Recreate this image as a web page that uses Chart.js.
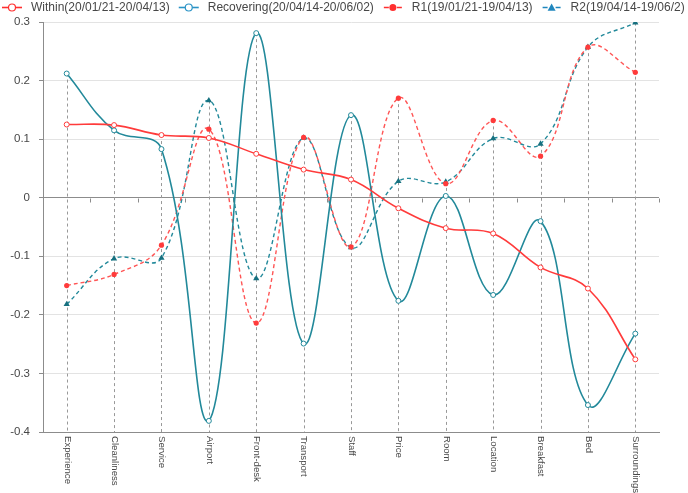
<!DOCTYPE html>
<html><head><meta charset="utf-8">
<script src="https://cdn.jsdelivr.net/npm/chart.js@4.4.1/dist/chart.umd.min.js"></script>
<style>html,body{margin:0;padding:0;background:#fff}#wrap{width:688px;height:493px;position:relative}</style>
</head><body><div id="wrap"><canvas id="c"></canvas></div>
<script>
const categories = ['Experience','Cleanliness','Service','Airport','Front-desk','Transport','Staff','Price','Room','Location','Breakfast','Bed','Surroundings'];
const within     = [0.125, 0.124, 0.107, 0.102, 0.075, 0.048, 0.031, -0.018, -0.052, -0.061, -0.119, -0.155, -0.276];
const recovering = [0.212, 0.115, 0.083, -0.381, 0.281, -0.249, 0.141, -0.176, 0.003, -0.166, -0.040, -0.354, -0.232];
const r1         = [-0.150, -0.131, -0.081, 0.117, -0.214, 0.103, -0.084, 0.170, 0.024, 0.132, 0.071, 0.257, 0.214];
const r2         = [-0.182, -0.104, -0.103, 0.166, -0.138, 0.102, -0.085, 0.028, 0.027, 0.101, 0.092, 0.257, 0.299];
const seriesNames = ['Within(20/01/21-20/04/13)','Recovering(20/04/14-20/06/02)','R1(19/01/21-19/04/13)','R2(19/04/14-19/06/2)'];
const yTickValues = [-0.4,-0.3,-0.2,-0.1,0,0.1,0.2,0.3];
const yTickLabels = ['-0.4','-0.3','-0.2','-0.1','0','0.1','0.2','0.3'];

const RED = '#FF3B3B', RED_L = '#FF5555', TEAL = '#22899A', TEAL_D = '#16707F';
const LEG_COLORS = ['#FF2F2F', '#2A93C6', '#FF2F2F', '#2087BE'];
const FONT = '"Liberation Sans", Arial, sans-serif';
const TXT = '#474747';
const AXIS = '#8c8c8c';

function drawMarker(ctx, kind, cx, cy, color, r) {
  ctx.save();
  ctx.lineWidth = 1.2;
  ctx.setLineDash([]);
  if (kind === 'open') {
    ctx.beginPath(); ctx.arc(cx, cy, r, 0, Math.PI * 2);
    ctx.fillStyle = '#fff'; ctx.fill(); ctx.strokeStyle = color; ctx.stroke();
  } else if (kind === 'dot') {
    ctx.beginPath(); ctx.arc(cx, cy, r, 0, Math.PI * 2);
    ctx.fillStyle = color; ctx.fill();
  } else {
    ctx.beginPath();
    ctx.moveTo(cx, cy - r); ctx.lineTo(cx + r, cy + r * 0.8); ctx.lineTo(cx - r, cy + r * 0.8); ctx.closePath();
    ctx.fillStyle = color; ctx.fill();
  }
  ctx.restore();
}

const extras = {
  id: 'extras',
  beforeDatasetsDraw(chart) {
    const {ctx, chartArea: a, scales: {x, y}} = chart;
    ctx.save();
    ctx.strokeStyle = '#999999'; ctx.lineWidth = 1; ctx.setLineDash([3, 3]);
    categories.forEach((c, i) => {
      const top = Math.max(...chart.data.datasets.map(d => d.data[i]));
      const px = Math.round(x.getPixelForValue(i)) + 0.5;
      ctx.beginPath(); ctx.moveTo(px, y.getPixelForValue(top)); ctx.lineTo(px, a.bottom); ctx.stroke();
    });
    ctx.setLineDash([]);
    const y0 = Math.round(y.getPixelForValue(0)) + 0.5;
    ctx.strokeStyle = AXIS;
    for (let i = 0; i < categories.length; i++) {
      const px = Math.round(x.getPixelForValue(i + 0.5)) + 0.5;
      ctx.beginPath(); ctx.moveTo(px, y0); ctx.lineTo(px, y0 + 4); ctx.stroke();
    }
    ctx.restore();
  },
  afterDraw(chart) {
    const {ctx, chartArea: a, scales: {x}} = chart;
    ctx.save();
    // category labels, rotated clockwise
    ctx.font = '9.6px ' + FONT; ctx.fillStyle = TXT; ctx.textAlign = 'left'; ctx.textBaseline = 'middle';
    categories.forEach((c, i) => {
      const px = x.getPixelForValue(i);
      ctx.save(); ctx.translate(px + 0.5, a.bottom + 4); ctx.rotate(Math.PI / 2); ctx.fillText(c, 0, 0); ctx.restore();
    });
    // legend
    const kinds = ['open', 'open', 'dot', 'tri'];
    const dashed = [false, false, true, true];
    ctx.font = '12px ' + FONT; ctx.textBaseline = 'middle';
    let lx = 2; const ly = 7.5;
    chart.data.datasets.forEach((d, k) => {
      ctx.strokeStyle = LEG_COLORS[k]; ctx.lineWidth = 1.6;
      ctx.beginPath();
      if (dashed[k]) { ctx.moveTo(lx + 1, ly); ctx.lineTo(lx + 6, ly); ctx.moveTo(lx + 14, ly); ctx.lineTo(lx + 19, ly); }
      else { ctx.moveTo(lx, ly); ctx.lineTo(lx + 20, ly); }
      ctx.stroke();
      drawMarker(ctx, kinds[k], lx + 10, ly, LEG_COLORS[k], kinds[k] === 'tri' ? 4 : 3.5);
      ctx.fillStyle = TXT; ctx.textAlign = 'left';
      ctx.fillText(d.label, lx + 29, ly);
      lx += 29 + ctx.measureText(d.label).width + 9;
    });
    ctx.restore();
  }
};

new Chart(document.getElementById('c'), {
  type: 'line',
  data: {
    labels: categories,
    datasets: [
      {label: seriesNames[0], data: within, borderColor: RED, borderWidth: 1.6, tension: 0.4,
       pointStyle: 'circle', pointRadius: 2.5, pointBackgroundColor: '#fff', pointBorderColor: RED, pointBorderWidth: 1},
      {label: seriesNames[1], data: recovering, borderColor: TEAL, borderWidth: 1.6, tension: 0.4,
       pointStyle: 'circle', pointRadius: 2.5, pointBackgroundColor: '#fff', pointBorderColor: TEAL, pointBorderWidth: 1},
      {label: seriesNames[2], data: r1, borderColor: RED_L, borderWidth: 1.4, borderDash: [4, 3], tension: 0.4,
       pointStyle: 'circle', pointRadius: 2.6, pointBackgroundColor: RED, pointBorderColor: RED, pointBorderWidth: 0},
      {label: seriesNames[3], data: r2, borderColor: TEAL, borderWidth: 1.4, borderDash: [4, 3], tension: 0.4,
       pointStyle: 'triangle', pointRadius: 3.6, pointBackgroundColor: TEAL_D, pointBorderColor: TEAL_D, pointBorderWidth: 0}
    ]
  },
  options: {
    responsive: true, maintainAspectRatio: false, animation: false,
    layout: {padding: {top: 22, right: 29, left: 0, bottom: 0}},
    plugins: {legend: {display: false}, tooltip: {enabled: false}},
    scales: {
      x: {
        type: 'category', offset: true,
        grid: {display: false},
        border: {display: true, color: AXIS, width: 1},
        ticks: {display: false},
        afterFit(s) { s.height = 61; }
      },
      y: {
        min: -0.4, max: 0.3,
        afterBuildTicks(s) { s.ticks = yTickValues.map(v => ({value: v})); },
        ticks: {
          callback: (v) => yTickLabels[yTickValues.findIndex(t => Math.abs(t - v) < 1e-9)],
          color: TXT, font: {size: 11.5, family: FONT}, padding: 9
        },
        grid: {
          color: c => (c.tick && (Math.abs(c.tick.value) < 1e-9 || Math.abs(c.tick.value + 0.4) < 1e-9)) ? AXIS : '#e3e3e3',
          tickLength: 4, tickColor: AXIS, lineWidth: 1
        },
        border: {display: true, color: AXIS, width: 1},
        afterFit(s) { s.width = 43; }
      }
    }
  },
  plugins: [extras]
});
</script>
</body></html>
